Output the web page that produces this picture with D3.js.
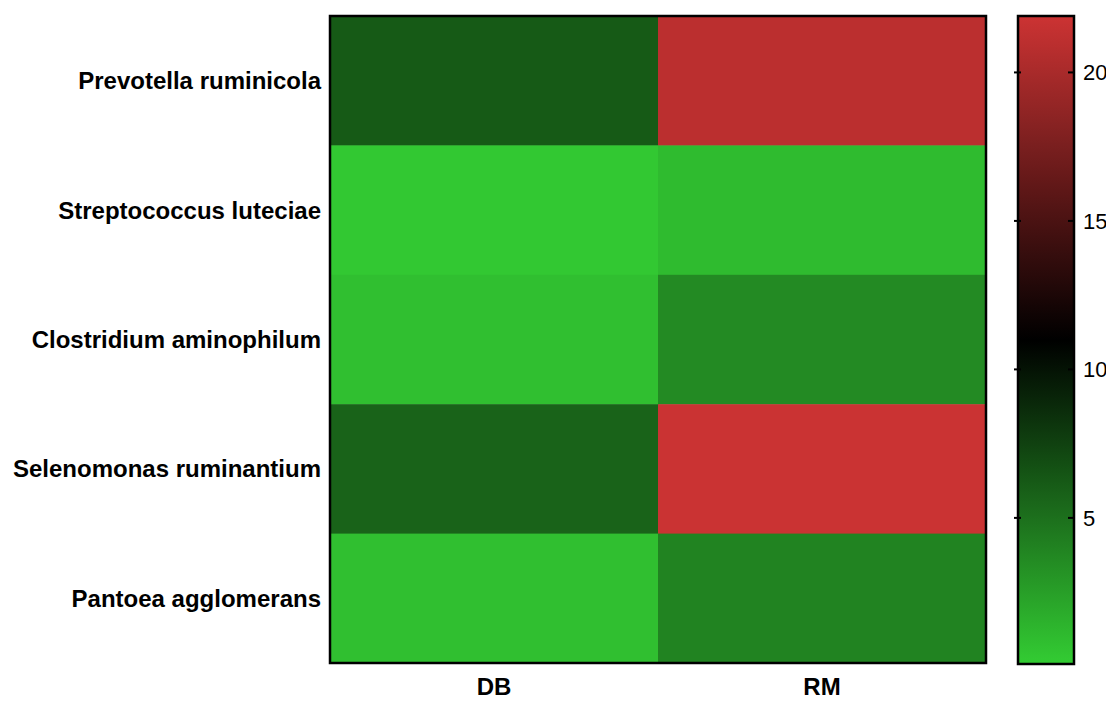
<!DOCTYPE html>
<html>
<head>
<meta charset="utf-8">
<script src="https://cdn.jsdelivr.net/npm/d3@7"></script>
<style>
  body { margin: 0; background: #fff; }
  text { font-family: "Liberation Sans", Arial, sans-serif; }
</style>
</head>
<body>
<div id="heatmap"></div>
<script>
// rows and columns of the heat map
let species = ["Prevotella ruminicola", "Streptococcus luteciae", "Clostridium aminophilum",
    "Selenomonas ruminantium", "Pantoea agglomerans"]
let groups = ["DB", "RM"]
let valuesDB = [6.2, 0.3, 0.8, 5.7, 0.8]
let valuesRM = [21.0, 1.0, 3.6, 21.8, 4.0]
let colorTicks = [5, 10, 15, 20]
let colorDomain = [0.08, 11, 21.9]

let svg_width = 1106
let svg_height = 704

var svg = d3.select("#heatmap")
    .append("svg")
    .attr("width", svg_width)
    .attr("height", svg_height)

var cells = []
species.forEach((s, i) => {
    cells.push({ row: s, col: "DB", value: valuesDB[i] })
    cells.push({ row: s, col: "RM", value: valuesRM[i] })
})

var xScale = d3.scaleBand().domain(groups).range([330, 986])
var yScale = d3.scaleBand().domain(species).range([16, 663])

var color = d3.scaleLinear()
    .domain(colorDomain)
    .range(["#33cc33", "#000000", "#cc3333"])
    .clamp(true)

svg.append("g").selectAll("rect").data(cells)
    .enter().append("rect")
    .attr("x", d => xScale(d.col))
    .attr("y", d => yScale(d.row))
    .attr("width", xScale.bandwidth() + 0.5)
    .attr("height", yScale.bandwidth() + 0.5)
    .style("fill", d => color(d.value))

// frame around the heat map
svg.append("rect")
    .attr("x", 330).attr("y", 16)
    .attr("width", 656).attr("height", 647)
    .style("fill", "none")
    .style("stroke", "#000")
    .style("stroke-width", "2.5px")

// row labels
svg.append("g").selectAll("text").data(species)
    .enter().append("text")
    .attr("x", 321)
    .attr("y", d => yScale(d) + yScale.bandwidth() / 2)
    .attr("dy", "0.35em")
    .attr("text-anchor", "end")
    .style("font-size", "24px")
    .style("font-weight", "bold")
    .text(d => d)

// column labels
svg.append("g").selectAll("text").data(groups)
    .enter().append("text")
    .attr("x", d => xScale(d) + xScale.bandwidth() / 2)
    .attr("y", 695)
    .attr("text-anchor", "middle")
    .style("font-size", "24px")
    .style("font-weight", "bold")
    .text(d => d)

// colour bar
var cbX = 1018, cbW = 56
var cbScale = d3.scaleLinear().domain([colorDomain[0], colorDomain[2]]).range([664, 16])

var defs = svg.append("defs")
var grad = defs.append("linearGradient")
    .attr("id", "cbGrad")
    .attr("x1", "0%").attr("y1", "100%")
    .attr("x2", "0%").attr("y2", "0%")
grad.selectAll("stop").data(d3.range(0, 1.0001, 0.05))
    .enter().append("stop")
    .attr("offset", d => (d * 100) + "%")
    .attr("stop-color", d => color(cbScale.domain()[0] + d * (cbScale.domain()[1] - cbScale.domain()[0])))

svg.append("rect")
    .attr("x", cbX).attr("y", 16)
    .attr("width", cbW).attr("height", 648)
    .style("fill", "url(#cbGrad)")
    .style("stroke", "#000")
    .style("stroke-width", "2.5px")

var tickG = svg.append("g").selectAll("g").data(colorTicks)
    .enter().append("g")
    .attr("transform", d => "translate(0," + cbScale(d) + ")")

tickG.append("line")
    .attr("x1", cbX - 4).attr("x2", cbX + 3)
    .style("stroke", "#000").style("stroke-width", "2px")
tickG.append("line")
    .attr("x1", cbX + cbW - 6).attr("x2", cbX + cbW)
    .style("stroke", "#000").style("stroke-width", "2px")
tickG.append("text")
    .attr("x", cbX + cbW + 9)
    .attr("dy", "0.35em")
    .style("font-size", "22px")
    .text(d => d)
</script>
</body>
</html>
